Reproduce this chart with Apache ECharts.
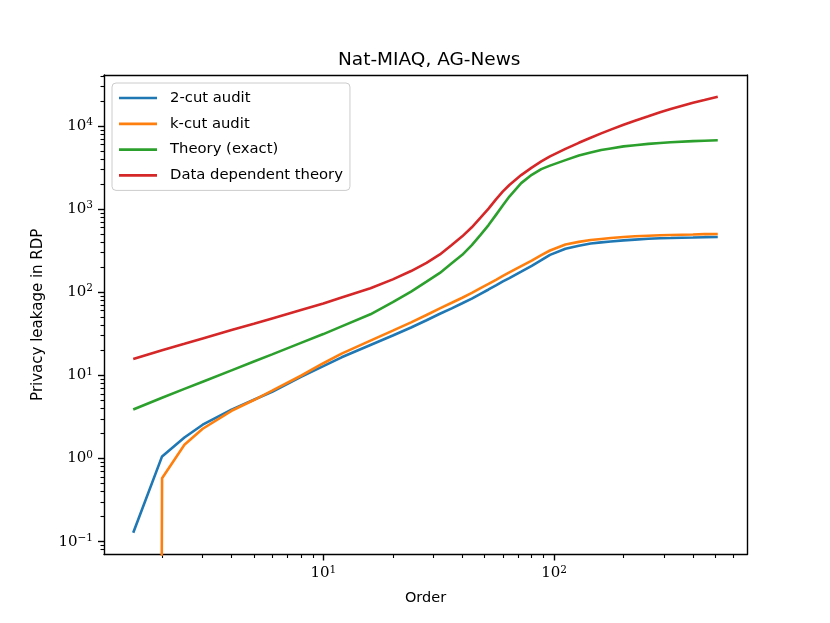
<!DOCTYPE html>
<html lang="en" style="height: 100%">

<head>
    <meta charset="utf-8" />
    <script src="https://cdn.jsdelivr.net/npm/echarts@6/dist/echarts.min.js"></script>
</head>

<body style="height: 100%; margin: 0; background: #fff">
    <div id="container" style="width: 830px;height: 623px;"></div>
    <script type="text/javascript">
        // Renyi orders (x) and leakage values
        const orders = [1.5, 2, 2.5, 3, 4, 5, 6, 8, 10, 12, 16, 20, 24, 28, 32, 36, 40, 44, 48, 52, 56, 60, 64, 72, 80, 88, 96,
            112, 128, 144, 160, 176, 200, 224, 256, 288, 320, 400, 448, 512];
        const cut2Audit = [0.128, 1.06, 1.79, 2.55, 3.87, 5.1, 6.36, 9.6, 12.9, 16.5, 23.2, 30.2, 37.7, 46.1, 55.1, 64.1, 73.7, 83.8, 95.7, 108, 121, 135, 148, 177, 208, 243, 282,
            334, 363, 386, 398, 408, 421, 430, 440, 446, 449, 456, 460, 463];
        // first k-cut value is zero in the plot (drawn off the bottom); a tiny positive stands in for it on the log axis
        const kcutAudit = [1e-100, 0.58, 1.46, 2.28, 3.75, 5.05, 6.55, 9.9, 14.0, 18.3, 26.2, 34.6, 43.5, 53.3, 64.1, 74.7, 85.9, 98.1, 112, 126, 141, 157, 173, 206, 240, 279, 318,
            376, 404, 425, 438, 449, 463, 471, 479, 485, 489, 495, 500, 503];
        const theoryExact = [3.89, 5.38, 6.88, 8.4, 11.5, 14.7, 17.9, 24.6, 31.4, 38.9, 54.3, 76.0, 102, 134, 171, 223, 282, 369, 490, 643, 853, 1112, 1418, 2056, 2590, 3030, 3340,
            3890, 4420, 4800, 5140, 5370, 5690, 5880, 6100, 6250, 6370, 6580, 6650, 6730];
        const dataDepTheory = [15.7, 20.1, 24.0, 27.8, 35.1, 41.9, 48.5, 61.1, 73.1, 86.5, 112, 143, 180, 226, 285, 371, 471, 605, 790, 1014, 1312, 1633, 1951, 2570, 3162, 3750, 4320,
            5310, 6280, 7230, 8150, 9050, 10370, 11580, 13090, 14660, 16000, 19100, 20560, 22500];

        const seriesNames = ['2-cut audit', 'k-cut audit', 'Theory (exact)', 'Data dependent theory'];
        const seriesValues = [cut2Audit, kcutAudit, theoryExact, dataDepTheory];
        const colors = ['#1f77b4', '#ff7f0e', '#2ca02c', '#d62728'];

        const xMajor = [10, 100];
        const xMinor = [2, 3, 4, 5, 6, 7, 8, 9, 20, 30, 40, 50, 60, 70, 80, 90, 200, 300, 400, 500, 600];
        const yMajor = [0.1, 1, 10, 100, 1000, 10000];
        const yMinor = [0.08, 0.09, 0.2, 0.3, 0.4, 0.5, 0.6, 0.7, 0.8, 0.9, 2, 3, 4, 5, 6, 7, 8, 9,
            20, 30, 40, 50, 60, 70, 80, 90, 200, 300, 400, 500, 600, 700, 800, 900,
            2000, 3000, 4000, 5000, 6000, 7000, 8000, 9000, 20000, 30000, 40000];

        const xMin = 1.1205, xMax = 685.5;
        const yMin = 0.07, yMax = 41100;

        var dom = document.getElementById('container');
        var myChart = echarts.init(dom, null, { renderer: 'canvas' });

        const sansFont = 'DejaVu Sans';
        const serifFont = 'DejaVu Serif';

        function powLabel(value) {
            const e = Math.round(Math.log10(value));
            const es = e < 0 ? '\u2212' + (-e) : String(e);
            return '{b|10}{s|' + es + '}';
        }
        const powRich = {
            b: { fontFamily: serifFont, fontSize: 15, color: '#000', lineHeight: 18 },
            s: { fontFamily: serifFont, fontSize: 10.5, color: '#000', verticalAlign: 'top', lineHeight: 10 }
        };

        function logAxis(extra) {
            return Object.assign({
                type: 'log',
                logBase: 10,
                splitLine: { show: false },
                minorTick: { show: false },
                minorSplitLine: { show: false }
            }, extra);
        }
        const black = { color: '#000', width: 1.4 };

        var option = {
            backgroundColor: '#fff',
            animation: false,
            color: colors,
            title: {
                text: 'Nat-MIAQ, AG-News',
                left: 333,
                top: 46,
                textStyle: { fontFamily: sansFont, fontSize: 18.5, fontWeight: 'normal', color: '#000' }
            },
            legend: {
                data: seriesNames,
                orient: 'vertical',
                left: 112,
                top: 83,
                padding: [6, 7, 6, 7],
                itemGap: 7.8,
                itemWidth: 38,
                itemHeight: 2.7,
                icon: 'rect',
                backgroundColor: 'rgba(255,255,255,0.8)',
                borderColor: '#cccccc',
                borderWidth: 1,
                borderRadius: 4,
                textStyle: { fontFamily: sansFont, fontSize: 14.8, color: '#000', lineHeight: 18, padding: [0, 0, 0, 8] }
            },
            grid: { left: 104, right: 83, top: 75, bottom: 68.5 },
            xAxis: [
                logAxis({
                    min: xMin, max: xMax,
                    position: 'bottom',
                    name: 'Order',
                    nameLocation: 'middle',
                    nameGap: 36,
                    nameTextStyle: { fontFamily: sansFont, fontSize: 14.5, color: '#000' },
                    axisLine: { show: true, lineStyle: black },
                    axisTick: { show: true, length: 6, customValues: xMajor, lineStyle: black },
                    axisLabel: { show: true, customValues: xMajor, margin: 10, formatter: powLabel, rich: powRich }
                }),
                logAxis({
                    min: xMin, max: xMax,
                    position: 'bottom',
                    axisLine: { show: false },
                    axisTick: { show: true, length: 3.5, customValues: xMinor, lineStyle: { color: '#000', width: 1.1 } },
                    axisLabel: { show: false }
                }),
                logAxis({
                    min: xMin, max: xMax,
                    position: 'top',
                    axisLine: { show: true, lineStyle: black },
                    axisTick: { show: false },
                    axisLabel: { show: false }
                })
            ],
            yAxis: [
                logAxis({
                    min: yMin, max: yMax,
                    position: 'left',
                    name: 'Privacy leakage in RDP',
                    nameLocation: 'middle',
                    nameGap: 58,
                    nameTextStyle: { fontFamily: sansFont, fontSize: 15, color: '#000' },
                    axisLine: { show: true, lineStyle: black },
                    axisTick: { show: true, length: 6, customValues: yMajor, lineStyle: black },
                    axisLabel: { show: true, customValues: yMajor, margin: 11, formatter: powLabel, rich: powRich }
                }),
                logAxis({
                    min: yMin, max: yMax,
                    position: 'left',
                    axisLine: { show: false },
                    axisTick: { show: true, length: 3.5, customValues: yMinor, lineStyle: { color: '#000', width: 1.1 } },
                    axisLabel: { show: false }
                }),
                logAxis({
                    min: yMin, max: yMax,
                    position: 'right',
                    axisLine: { show: true, lineStyle: black },
                    axisTick: { show: false },
                    axisLabel: { show: false }
                })
            ],
            series: seriesNames.map(function (name, i) {
                return {
                    name: name,
                    type: 'line',
                    xAxisIndex: 0,
                    yAxisIndex: 0,
                    showSymbol: false,
                    symbol: 'none',
                    clip: true,
                    lineStyle: { width: 2.6, color: colors[i] },
                    itemStyle: { color: colors[i] },
                    data: orders.map(function (o, j) { return [o, seriesValues[i][j]]; })
                };
            })
        };

        if (option && typeof option === 'object') {
            myChart.setOption(option);
        }

        window.addEventListener('resize', myChart.resize);
    </script>
</body>

</html>
